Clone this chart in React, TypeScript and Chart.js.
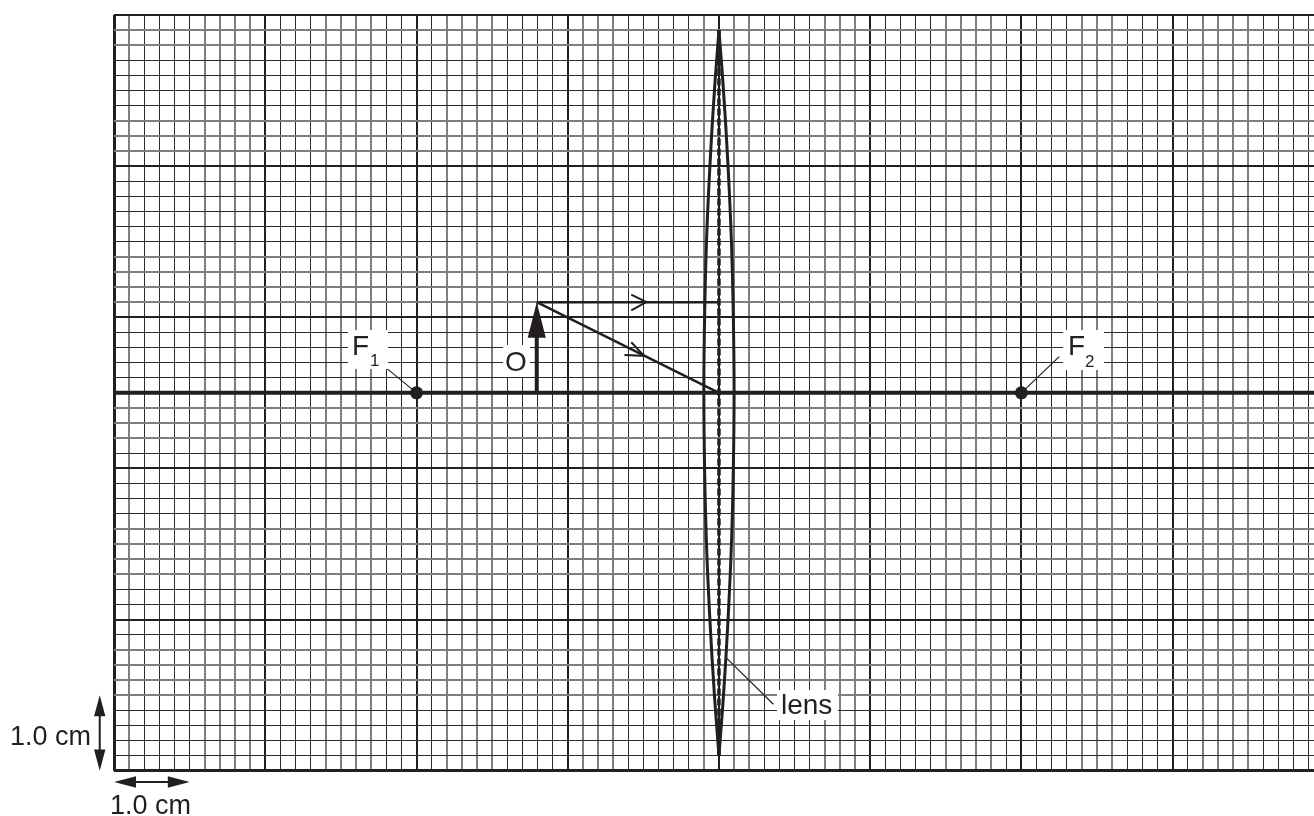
import React, { useEffect, useRef } from "react";
import { Chart, registerables } from "chart.js";

Chart.register(...registerables);

// All coordinates in cm on the graph paper.
const axisXRange = [0, 15.87];
const axisYRange = [0, 10];
const minorStep = 0.2;
const majorEvery = 10;

const principalAxisX = [0, 15.87];
const principalAxisY = [5, 5];

const focusX = [4, 12];
const focusY = [5, 5];

const objectX = [5.59, 5.59];
const objectY = [5, 5.75];
const objectHeadX = [5.59, 5.47, 5.71];
const objectHeadY = [6.2, 5.73, 5.73];

const rayParallelX = [5.59, 8];
const rayParallelY = [6.2, 6.2];
const rayCentreX = [5.59, 8];
const rayCentreY = [6.2, 5];
const chevronParallelX = [6.84, 7.04, 6.84];
const chevronParallelY = [6.3, 6.2, 6.09];
const chevronCentreX = [6.84, 7.01, 6.75];
const chevronCentreY = [5.67, 5.49, 5.5];

const lensY = [0.2, 1, 2, 3, 4, 5, 6, 7, 8, 9, 9.8];
const lensHalf = [0, 0.06, 0.12, 0.165, 0.19, 0.2, 0.19, 0.165, 0.12, 0.06, 0];
const lensAxisX = [8, 8];
const lensAxisY = [0.2, 9.8];

const leaderF1X = [3.55, 4];
const leaderF1Y = [5.37, 5];
const leaderF2X = [12.5, 12];
const leaderF2Y = [5.48, 5];
const leaderLensX = [8.1, 8.72];
const leaderLensY = [1.49, 0.88];

const scaleBarV = { x: [-0.19, -0.19], y: [0.25, 0.73] };
const scaleBarH = { x: [0.25, 0.75], y: [-0.15, -0.15] };

const heads = [
  { x: objectHeadX, y: objectHeadY },
  { x: [-0.19, -0.265, -0.115], y: [1, 0.72, 0.72] },
  { x: [-0.19, -0.265, -0.115], y: [0, 0.28, 0.28] },
  { x: [0, 0.29, 0.29], y: [-0.15, -0.075, -0.225] },
  { x: [1, 0.71, 0.71], y: [-0.15, -0.075, -0.225] },
];

const INK = "#231f20";

const toPts = (xs: number[], ys: number[]) => xs.map((x, i) => ({ x, y: ys[i] }));

const line = (xs: number[], ys: number[], width: number, extra: object = {}) => ({
  data: toPts(xs, ys),
  showLine: true,
  borderColor: INK,
  backgroundColor: INK,
  borderWidth: width,
  pointRadius: 0,
  clip: false,
  ...extra,
});

const minorStyle = (scale: any, value: number) => {
  const p = scale.getPixelForValue(value);
  const f = p - Math.floor(p);
  return Math.abs(f - 0.5) < 0.27;
};

const isMajor = (value: number) => Math.round(value / minorStep) % majorEvery === 0;

const gridColor = (ctx: any) => {
  const v = ctx.tick.value;
  if (isMajor(v)) return INK;
  return minorStyle(ctx.scale, v) ? "#2c2a2b" : "#7f7d7e";
};
const gridWidth = (ctx: any) => {
  const v = ctx.tick.value;
  if (v === 0) return 3;
  if (isMajor(v)) return 2;
  return minorStyle(ctx.scale, v) ? 1 : 2;
};

const labelsPlugin = {
  id: "labels",
  afterDatasetsDraw(chart: any) {
    const { ctx, scales } = chart;
    ctx.save();
    ctx.fillStyle = INK;
    for (const h of heads) {
      ctx.beginPath();
      h.x.forEach((x: number, i: number) => {
        const px = scales.x.getPixelForValue(x);
        const py = scales.y.getPixelForValue(h.y[i]);
        if (i === 0) ctx.moveTo(px, py);
        else ctx.lineTo(px, py);
      });
      ctx.closePath();
      ctx.fill();
    }
    ctx.fillStyle = "#fff";
    ctx.fillRect(348, 330, 40, 39);
    ctx.fillRect(503, 345, 27, 32);
    ctx.fillRect(1063, 330, 41, 40);
    ctx.fillRect(777, 690, 61, 30);
    ctx.fillStyle = INK;
    ctx.textAlign = "left";
    ctx.textBaseline = "alphabetic";
    const big = "28px 'Liberation Sans'";
    const sub = "17px 'Liberation Sans'";
    ctx.font = big;
    ctx.fillText("F", 352, 355);
    ctx.fillText("F", 1068, 355);
    ctx.fillText("O", 505, 371);
    ctx.fillText("lens", 781, 714);
    ctx.font = sub;
    ctx.fillText("1", 370, 366);
    ctx.fillText("2", 1085, 367);
    ctx.font = "27px 'Liberation Sans'";
    ctx.fillText("1.0 cm", 10, 745);
    ctx.fillText("1.0 cm", 110, 814);
    ctx.restore();
  },
};

export default function App() {
  const ref = useRef<HTMLCanvasElement | null>(null);
  useEffect(() => {
    const lensLeft = lensY.map((_, i) => 8 - lensHalf[i]);
    const lensRight = lensY.map((_, i) => 8 + lensHalf[i]);
    const chart = new Chart(ref.current as HTMLCanvasElement, {
      type: "scatter",
      data: {
        datasets: [
          line(focusX, focusY, 0, { showLine: false, pointRadius: 6.5, pointBorderWidth: 0 }),
          line(principalAxisX, principalAxisY, 4),
          line(objectX, objectY, 4),
          line(rayParallelX, rayParallelY, 2.5),
          line(rayCentreX, rayCentreY, 2.5),
          line(chevronParallelX, chevronParallelY, 2),
          line(chevronCentreX, chevronCentreY, 2),
          line(lensLeft, lensY, 3, { tension: 0.4 }),
          line(lensRight, lensY, 3, { tension: 0.4 }),
          line(lensAxisX, lensAxisY, 3.5, { borderDash: [7, 3] }),
          line(leaderF1X, leaderF1Y, 1.2),
          line(leaderF2X, leaderF2Y, 1.2),
          line(leaderLensX, leaderLensY, 1.2),
          line(scaleBarV.x, scaleBarV.y, 2),
          line(scaleBarH.x, scaleBarH.y, 2),
        ] as any,
      },
      options: {
        animation: false,
        responsive: false,
        devicePixelRatio: 1,
        layout: { autoPadding: false, padding: { left: 114.1, top: 15, right: 0, bottom: 45.3 } },
        plugins: { legend: { display: false }, tooltip: { enabled: false } },
        scales: {
          x: {
            type: "linear",
            min: axisXRange[0],
            max: axisXRange[1],
            border: { display: false },
            grid: { color: gridColor, lineWidth: gridWidth, drawTicks: false },
            ticks: { display: false, stepSize: minorStep, autoSkip: false, includeBounds: false },
          },
          y: {
            type: "linear",
            min: axisYRange[0],
            max: axisYRange[1],
            border: { display: false },
            grid: { color: gridColor, lineWidth: gridWidth, drawTicks: false },
            ticks: { display: false, stepSize: minorStep, autoSkip: false, includeBounds: false },
          },
        },
      },
      plugins: [labelsPlugin],
    } as any);
    return () => chart.destroy();
  }, []);
  return (
    <canvas
      ref={ref}
      width={1314}
      height={816}
      style={{ position: "fixed", left: 0, top: 0, width: 1314, height: 816, background: "#fff" }}
    />
  );
}
